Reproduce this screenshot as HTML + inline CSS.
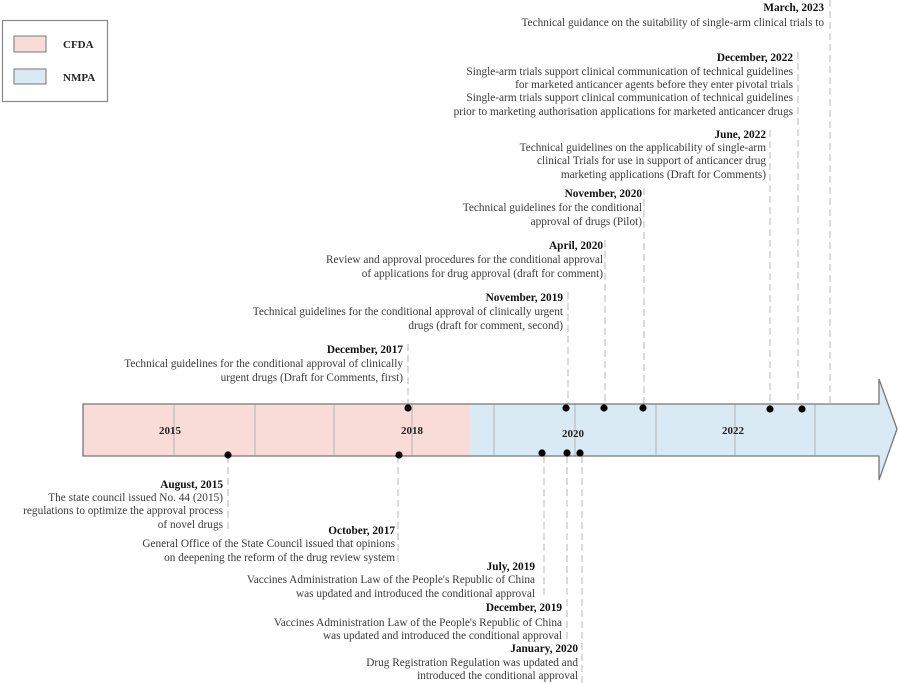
<!DOCTYPE html>
<html><head><meta charset="utf-8"><style>
html,body{margin:0;padding:0;background:#fff;}
svg{display:block;font-family:"Liberation Serif",serif;}
.t{font-size:11.3px;fill:#3a3a3a;text-anchor:end;}
.b{font-size:11.3px;fill:#111;font-weight:bold;text-anchor:end;}
.d{stroke:#c8c8c8;stroke-width:1.3;stroke-dasharray:7 4;fill:none;}
.k{stroke:#b4b4b4;stroke-width:1;}
.y{font-size:11px;font-weight:bold;fill:#222;text-anchor:middle;}
</style></head><body>
<svg width="898" height="683" viewBox="0 0 898 683">
<rect x="2.5" y="20.5" width="105" height="81" fill="#fff" stroke="#888" stroke-width="1.2"/>
<rect x="14" y="36" width="32" height="16" fill="#f9dcd8" stroke="#777" stroke-width="1"/>
<rect x="14" y="69" width="32" height="15" fill="#d9eaf5" stroke="#777" stroke-width="1"/>
<text x="63" y="48" style="font-size:11px;font-weight:bold;fill:#222">CFDA</text>
<text x="63" y="81" style="font-size:11px;font-weight:bold;fill:#222">NMPA</text>

<line class="d" x1="830" y1="0" x2="830" y2="404"/>
<line class="d" x1="798" y1="52" x2="798" y2="404"/>
<line class="d" x1="770" y1="130" x2="770" y2="404"/>
<line class="d" x1="644" y1="188" x2="644" y2="404"/>
<line class="d" x1="605" y1="240" x2="605" y2="404"/>
<line class="d" x1="568" y1="292" x2="568" y2="404"/>
<line class="d" x1="408" y1="344" x2="408" y2="404"/>
<line class="d" x1="228" y1="456" x2="228" y2="530"/>
<line class="d" x1="398" y1="456" x2="398" y2="562"/>
<line class="d" x1="544" y1="456" x2="544" y2="598"/>
<line class="d" x1="567" y1="456" x2="567" y2="640"/>
<line class="d" x1="582" y1="456" x2="582" y2="683"/>

<path d="M83,404 L470,404 L470,456 L83,456 Z" fill="#f9dcd8"/>
<path d="M470,404 L879,404 L879,379 L897,429 L879,480 L879,456 L470,456 Z" fill="#d9eaf5"/>
<g>
<line class="k" x1="174" y1="404" x2="174" y2="456"/>
<line class="k" x1="255" y1="404" x2="255" y2="456"/>
<line class="k" x1="334" y1="404" x2="334" y2="456"/>
<line class="k" x1="412" y1="404" x2="412" y2="456"/>
<line class="k" x1="494" y1="404" x2="494" y2="456"/>
<line class="k" x1="575" y1="404" x2="575" y2="456"/>
<line class="k" x1="656" y1="404" x2="656" y2="456"/>
<line class="k" x1="735" y1="404" x2="735" y2="456"/>
<line class="k" x1="815" y1="404" x2="815" y2="456"/>
</g>
<path d="M83,404 L879,404 L879,379 L897,429 L879,480 L879,456 L83,456 Z" fill="none" stroke="#777" stroke-width="1.3"/>
<text class="y" x="170" y="434">2015</text>
<text class="y" x="412" y="434">2018</text>
<text class="y" x="573" y="437">2020</text>
<text class="y" x="733" y="434">2022</text>

<g fill="#000">
<circle cx="408" cy="408" r="3.6"/><circle cx="566" cy="408" r="3.6"/><circle cx="604" cy="408" r="3.6"/>
<circle cx="643" cy="408" r="3.6"/><circle cx="770" cy="409" r="3.6"/><circle cx="802" cy="409" r="3.6"/>
<circle cx="228" cy="455" r="3.6"/><circle cx="399" cy="455" r="3.6"/><circle cx="542" cy="453" r="3.6"/>
<circle cx="567" cy="453" r="3.6"/><circle cx="580" cy="453" r="3.6"/>
</g>

<text class="b" x="824" y="11">March, 2023</text>
<text class="t" x="824" y="26">Technical guidance on the suitability of single-arm clinical trials to</text>

<text class="b" x="793" y="61">December, 2022</text>
<text class="t" x="793" y="75">Single-arm trials support clinical communication of technical guidelines</text>
<text class="t" x="793" y="88">for marketed anticancer agents before they enter pivotal trials</text>
<text class="t" x="793" y="101">Single-arm trials support clinical communication of technical guidelines</text>
<text class="t" x="793" y="115">prior to marketing authorisation applications for marketed anticancer drugs</text>

<text class="b" x="766" y="138">June, 2022</text>
<text class="t" x="766" y="151">Technical guidelines on the applicability of single-arm</text>
<text class="t" x="766" y="164">clinical Trials for use in support of anticancer drug</text>
<text class="t" x="766" y="178">marketing applications (Draft for Comments)</text>

<text class="b" x="642" y="197">November, 2020</text>
<text class="t" x="642" y="211">Technical guidelines for the conditional</text>
<text class="t" x="642" y="225">approval of  drugs (Pilot)</text>

<text class="b" x="603" y="249">April, 2020</text>
<text class="t" x="603" y="263">Review and approval procedures for the conditional approval</text>
<text class="t" x="603" y="277">of applications for drug approval (draft for comment)</text>

<text class="b" x="563" y="301">November, 2019</text>
<text class="t" x="563" y="315">Technical guidelines for the conditional approval of  clinically urgent</text>
<text class="t" x="563" y="329">drugs (draft for comment, second)</text>

<text class="b" x="403" y="353">December, 2017</text>
<text class="t" x="403" y="367">Technical guidelines for the conditional approval of  clinically</text>
<text class="t" x="403" y="381">urgent drugs (Draft for Comments, first)</text>

<text class="b" x="223" y="488">August, 2015</text>
<text class="t" x="223" y="501">The state council issued No. 44 (2015)</text>
<text class="t" x="223" y="514">regulations  to  optimize the approval process</text>
<text class="t" x="223" y="528">of novel drugs</text>

<text class="b" x="395" y="534">October, 2017</text>
<text class="t" x="395" y="547">General Office of the State Council issued that opinions</text>
<text class="t" x="395" y="561">on deepening the reform of the drug review  system</text>

<text class="b" x="535" y="570">July, 2019</text>
<text class="t" x="535" y="583">Vaccines Administration Law of the People's Republic of China</text>
<text class="t" x="535" y="597">was updated and introduced the conditional approval</text>

<text class="b" x="562" y="611">December, 2019</text>
<text class="t" x="562" y="626">Vaccines Administration Law of the People's Republic of China</text>
<text class="t" x="562" y="639">was updated and introduced the conditional approval</text>

<text class="b" x="578" y="652">January, 2020</text>
<text class="t" x="578" y="666">Drug Registration Regulation was updated and</text>
<text class="t" x="578" y="679">introduced the conditional approval</text>
</svg>
</body></html>
